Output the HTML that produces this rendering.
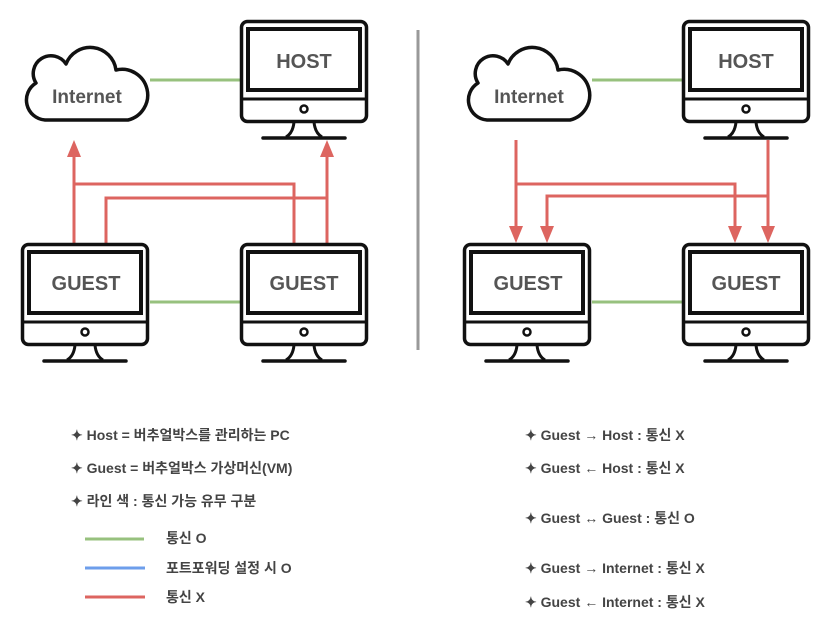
<!DOCTYPE html>
<html><head><meta charset="utf-8"><style>
body{margin:0;background:#fff;width:837px;height:628px;overflow:hidden}
svg{display:block}
.t{font-family:"Liberation Sans","Noto Sans CJK KR",sans-serif;font-weight:bold;fill:#555}
.lg{font-family:"Liberation Sans","Noto Sans CJK KR",sans-serif;font-weight:bold;font-size:14px;fill:#444}
</style></head><body>
<svg width="837" height="628" viewBox="0 0 837 628">
<defs>
<g id="mon" fill="none" stroke="#111">
<rect x="1.5" y="1.5" width="125" height="100" rx="6" stroke-width="3.5" fill="#fff"/>
<rect x="8" y="9" width="112" height="61" stroke-width="4"/>
<line x1="2" y1="79" x2="126" y2="79" stroke-width="3"/>
<circle cx="64" cy="89" r="3.5" stroke-width="2.5"/>
<path d="M54 102 Q53 113 46 117 M74 102 Q75 113 82 117" stroke-width="3"/>
<line x1="23" y1="118" x2="105" y2="118" stroke-width="3.5" stroke-linecap="round"/>
</g>
<g id="cloud">
<path d="M45 120 A20 20 0 0 1 36 83 A16 16 0 0 1 66 64 A26 26 0 0 1 116 70 A25 25 0 0 1 128 120 Z" fill="#fff" stroke="#111" stroke-width="3.5" stroke-linejoin="round"/>
</g>
</defs>

<g stroke="#97c17e" stroke-width="3">
<line x1="150" y1="80" x2="240" y2="80"/>
<line x1="150" y1="302" x2="240" y2="302"/>
<line x1="592" y1="80" x2="682" y2="80"/>
<line x1="592" y1="302" x2="682" y2="302"/>
</g>
<line x1="418" y1="30" x2="418" y2="350" stroke="#999" stroke-width="3"/>

<g stroke="#dd6560" stroke-width="3" fill="none">
<path d="M74 243 V156 M74 184 H294 V243 M106 243 V198 H327 M327 243 V156"/>
<path d="M516 140 V228 M516 184 H735 V228 M768 140 V228 M768 196 H547 V228"/>
</g>
<g fill="#dd6560">
<polygon points="74,140 67,157 81,157"/>
<polygon points="327,140 320,157 334,157"/>
<polygon points="516,243 509,226 523,226"/>
<polygon points="547,243 540,226 554,226"/>
<polygon points="735,243 728,226 742,226"/>
<polygon points="768,243 761,226 775,226"/>
</g>

<use href="#cloud"/>
<use href="#cloud" transform="translate(442,0)"/>
<text class="t" x="87" y="103" font-size="19" text-anchor="middle">Internet</text>
<text class="t" x="529" y="103" font-size="19" text-anchor="middle">Internet</text>

<use href="#mon" transform="translate(240,20)"/>
<use href="#mon" transform="translate(21,243)"/>
<use href="#mon" transform="translate(240,243)"/>
<use href="#mon" transform="translate(682,20)"/>
<use href="#mon" transform="translate(463,243)"/>
<use href="#mon" transform="translate(682,243)"/>
<text class="t" x="304" y="68" font-size="20" text-anchor="middle">HOST</text>
<text class="t" x="746" y="68" font-size="20" text-anchor="middle">HOST</text>
<text class="t" x="86" y="290" font-size="20" text-anchor="middle">GUEST</text>
<text class="t" x="304" y="290" font-size="20" text-anchor="middle">GUEST</text>
<text class="t" x="528" y="290" font-size="20" text-anchor="middle">GUEST</text>
<text class="t" x="746" y="290" font-size="20" text-anchor="middle">GUEST</text>

<text class="lg" x="71" y="440">✦ Host = 버추얼박스를 관리하는 PC</text>
<text class="lg" x="71" y="473">✦ Guest = 버추얼박스 가상머신(VM)</text>
<text class="lg" x="71" y="506">✦ 라인 색 : 통신 가능 유무 구분</text>
<line x1="85" y1="539" x2="144" y2="539" stroke="#97c17e" stroke-width="3"/>
<line x1="85" y1="568" x2="145" y2="568" stroke="#6d9eeb" stroke-width="3"/>
<line x1="85" y1="597" x2="145" y2="597" stroke="#dd6560" stroke-width="3"/>
<text class="lg" x="166" y="543">통신 O</text>
<text class="lg" x="166" y="573">포트포워딩 설정 시 O</text>
<text class="lg" x="166" y="602">통신 X</text>

<text class="lg" x="525" y="440">✦ Guest <tspan font-weight="normal">→</tspan> Host : 통신 X</text>
<text class="lg" x="525" y="473">✦ Guest <tspan font-weight="normal">←</tspan> Host : 통신 X</text>
<text class="lg" x="525" y="523">✦ Guest <tspan font-weight="normal">↔</tspan> Guest : 통신 O</text>
<text class="lg" x="525" y="573">✦ Guest <tspan font-weight="normal">→</tspan> Internet : 통신 X</text>
<text class="lg" x="525" y="607">✦ Guest <tspan font-weight="normal">←</tspan> Internet : 통신 X</text>
</svg>
</body></html>
